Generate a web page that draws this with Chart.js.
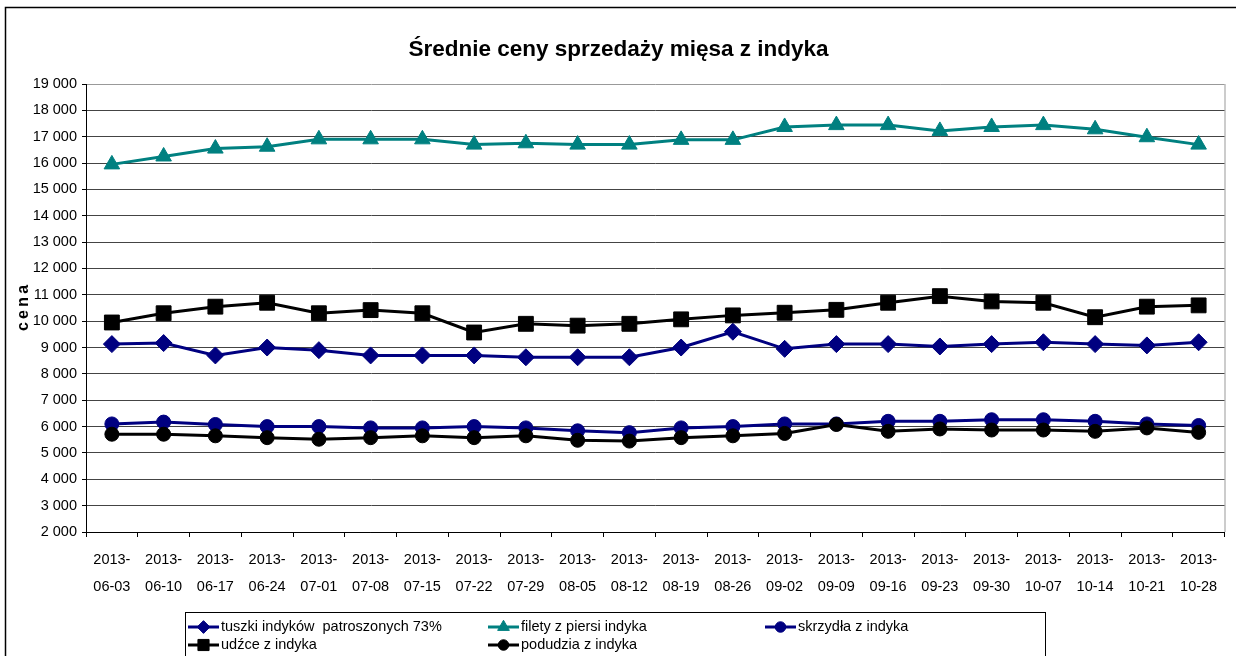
<!DOCTYPE html>
<html>
<head>
<meta charset="utf-8">
<script src="https://cdn.jsdelivr.net/npm/chart.js@4.4.1/dist/chart.umd.min.js"></script>
<style>
  html, body { margin: 0; padding: 0; background: #fff; }
  #wrap { width: 1236px; height: 656px; position: relative; }
</style>
</head>
<body>
<div id="wrap"><canvas id="priceChart" width="1236" height="656"></canvas></div>
<script>
// weekly dates
const dates = ['2013-06-03', '2013-06-10', '2013-06-17', '2013-06-24', '2013-07-01', '2013-07-08',
    '2013-07-15', '2013-07-22', '2013-07-29', '2013-08-05', '2013-08-12', '2013-08-19', '2013-08-26',
    '2013-09-02', '2013-09-09', '2013-09-16', '2013-09-23', '2013-09-30', '2013-10-07', '2013-10-14',
    '2013-10-21', '2013-10-28'];

const tuszki = [9130, 9170, 8700, 9000, 8900, 8700, 8700, 8700, 8630, 8630, 8630,
    9000, 9600, 8950, 9130, 9130, 9040, 9130, 9200, 9130, 9080, 9200];
const filety = [15950, 16250, 16550, 16620, 16900, 16900, 16900, 16700, 16750, 16700, 16700,
    16880, 16880, 17370, 17440, 17440, 17220, 17370, 17440, 17280, 16980, 16700];
const skrzydla = [6100, 6170, 6080, 6000, 6000, 5950, 5950, 6000, 5950, 5840, 5770,
    5950, 6000, 6100, 6100, 6200, 6200, 6260, 6260, 6200, 6100, 6040];
const udzce = [9950, 10300, 10550, 10700, 10300, 10420, 10300, 9570, 9900, 9830, 9900,
    10070, 10220, 10320, 10430, 10700, 10950, 10750, 10700, 10150, 10550, 10600];
const podudzia = [5710, 5710, 5650, 5580, 5520, 5580, 5650, 5580, 5650, 5480, 5450,
    5580, 5650, 5740, 6080, 5820, 5910, 5870, 5870, 5820, 5950, 5780];

const seriesNames = ['tuszki indyków  patroszonych 73%', 'filety z piersi indyka', 'skrzydła z indyka',
    'udźce z indyka', 'podudzia z indyka'];

const yMin = 2000, yMax = 19000, yStep = 1000;

const FONT = '"Liberation Sans", Arial, sans-serif';
const NAVY = '#000080', TEAL = '#008080', BLACK = '#000000';

function fmt(v) {
    return String(v).replace(/\B(?=(\d{3})+(?!\d))/g, ' ');
}

function makeSet(label, data, color, style, radius, order) {
    return {
        label: label,
        data: data,
        borderColor: color,
        backgroundColor: color,
        borderWidth: 3,
        pointStyle: style,
        pointRadius: radius,
        pointHoverRadius: radius,
        pointBorderWidth: 1,
        tension: 0,
        order: order
    };
}

// frame, plot border and the boxed legend at the bottom
const framePlugin = {
    id: 'frame',
    beforeDraw(chart) {
        const ctx = chart.ctx;
        const a = chart.chartArea;
        ctx.save();
        ctx.fillStyle = '#fff';
        ctx.fillRect(0, 0, chart.width, chart.height);
        ctx.strokeStyle = '#000';
        ctx.lineWidth = 1.5;
        ctx.beginPath();
        ctx.moveTo(5.5, chart.height + 2);
        ctx.lineTo(5.5, 7.5);
        ctx.lineTo(chart.width + 2, 7.5);
        ctx.stroke();
        ctx.strokeStyle = '#999';
        ctx.lineWidth = 1;
        ctx.beginPath();
        ctx.moveTo(a.right + 0.5, a.top);
        ctx.lineTo(a.right + 0.5, a.bottom);
        ctx.stroke();
        ctx.restore();
    },
    afterDraw(chart) {
        const ctx = chart.ctx;
        ctx.save();
        ctx.strokeStyle = '#000';
        ctx.lineWidth = 1;
        ctx.strokeRect(185.5, 612.5, 860, 60);
        const slots = [[188, 627], [488, 627], [765, 627], [188, 645], [488, 645]];
        ctx.font = '14.5px ' + FONT;
        ctx.textBaseline = 'middle';
        chart.data.datasets.forEach((ds, i) => {
            const x = slots[i][0], y = slots[i][1];
            ctx.strokeStyle = ds.borderColor;
            ctx.fillStyle = ds.backgroundColor;
            ctx.lineWidth = 3;
            ctx.beginPath();
            ctx.moveTo(x, y);
            ctx.lineTo(x + 31, y);
            ctx.stroke();
            ctx.lineWidth = 1;
            Chart.helpers.drawPoint(ctx, {
                pointStyle: ds.pointStyle, rotation: 0,
                radius: ds.pointRadius * 0.75, borderWidth: 1
            }, x + 15.5, y);
            ctx.fillStyle = '#000';
            ctx.fillText(ds.label, x + 33, y);
        });
        ctx.restore();
    }
};

const ctx = document.getElementById('priceChart').getContext('2d');
new Chart(ctx, {
    type: 'line',
    data: {
        labels: dates.map(d => [d.slice(0, 5), d.slice(5)]),
        datasets: [
            makeSet(seriesNames[0], tuszki, NAVY, 'rectRot', 8.5, 5),
            makeSet(seriesNames[1], filety, TEAL, 'triangle', 9, 4),
            makeSet(seriesNames[2], skrzydla, NAVY, 'circle', 7, 3),
            makeSet(seriesNames[3], udzce, BLACK, 'rect', 10.5, 2),
            makeSet(seriesNames[4], podudzia, BLACK, 'circle', 7, 1)
        ]
    },
    options: {
        responsive: false,
        animation: false,
        events: [],
        layout: {
            padding: { left: 12, right: 11, top: 5, bottom: 48 }
        },
        plugins: {
            legend: { display: false },
            tooltip: { enabled: false },
            title: {
                display: true,
                text: 'Średnie ceny sprzedaży mięsa z indyka',
                color: '#000',
                font: { family: FONT, size: 22.5, weight: 'bold', lineHeight: 1.2 },
                padding: { top: 31, bottom: 21 }
            }
        },
        scales: {
            x: {
                offset: true,
                grid: {
                    offset: true,
                    drawOnChartArea: false,
                    drawTicks: true,
                    tickLength: 5,
                    color: '#000'
                },
                border: { display: true, color: '#000', width: 1 },
                ticks: {
                    color: '#000',
                    maxRotation: 0,
                    autoSkip: false,
                    padding: 9,
                    font: { family: FONT, size: 14.5, lineHeight: 1.9 }
                },
                afterFit(scale) { scale.height = 76; }
            },
            y: {
                min: yMin,
                max: yMax,
                ticks: {
                    stepSize: yStep,
                    color: '#000',
                    padding: 5,
                    font: { family: FONT, size: 14.5 },
                    callback: v => fmt(v)
                },
                grid: {
                    color: ctx2 => (ctx2.tick && ctx2.tick.value === yMax) ? '#999' : '#444',
                    tickColor: '#000',
                    tickLength: 4,
                    lineWidth: 1
                },
                border: { display: true, color: '#000', width: 1 },
                title: {
                    display: true,
                    text: 'c\u2009e\u2009n\u2009a',
                    color: '#000',
                    font: { family: FONT, size: 16, weight: 'bold', lineHeight: 1.2 },
                    padding: { top: 2, bottom: 0 }
                },
                afterFit(scale) { scale.width = 74; }
            }
        }
    },
    plugins: [framePlugin]
});
</script>
</body>
</html>
